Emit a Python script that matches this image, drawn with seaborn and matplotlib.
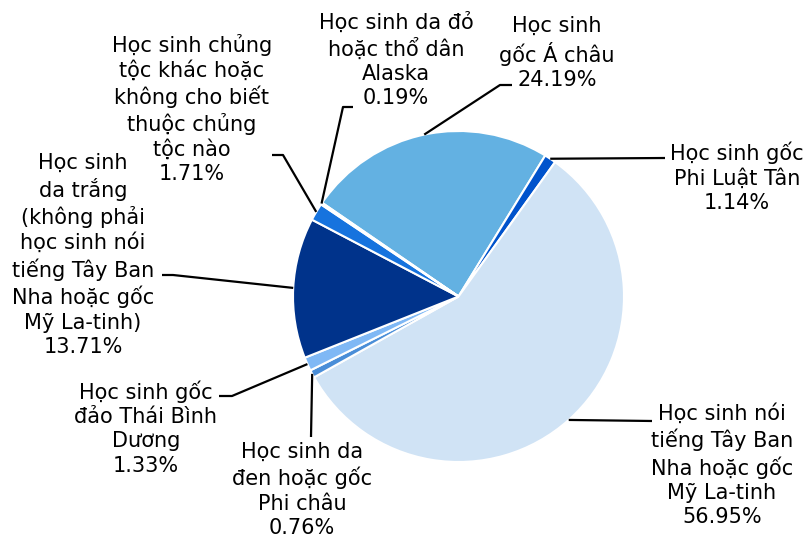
import numpy as np
import matplotlib
matplotlib.use('Agg')
import matplotlib.pyplot as plt
import seaborn as sns

# du lieu: ty le hoc sinh theo chung toc (theo chieu kim dong ho)
groups = ['Học sinh\ngốc Á châu',
          'Học sinh gốc\nPhi Luật Tân',
          'Học sinh nói\ntiếng Tây Ban\nNha hoặc gốc\nMỹ La-tinh',
          'Học sinh da\nđen hoặc gốc\nPhi châu',
          'Học sinh gốc\nđảo Thái Bình\nDương',
          'Học sinh\nda trắng\n(không phải\nhọc sinh nói\ntiếng Tây Ban\nNha hoặc gốc\nMỹ La-tinh)',
          'Học sinh chủng\ntộc khác hoặc\nkhông cho biết\nthuộc chủng\ntộc nào',
          'Học sinh da đỏ\nhoặc thổ dân\nAlaska']
percents = [24.19, 1.14, 56.95, 0.76, 1.33, 13.71, 1.71, 0.19]
colors = ['#63B1E2', '#0053CC', '#D0E3F5', '#4A8ED8',
          '#7FB8F5', '#00338B', '#1673DE', '#2E75B6']

# vi tri nhan (pixel, goc tren trai) va diem gap cua duong dan
label_pos = [(557, 53), (737, 177), (722, 465), (302, 490),
             (146, 428), (83, 255), (192, 109), (396, 60)]
leader_pts = [[(512, 85), (500, 85)],
              [(665, 158)],
              [(652, 421)],
              [(311, 437)],
              [(219, 396), (232, 396)],
              [(162, 275), (173, 275)],
              [(272, 155), (283, 155)],
              [(353, 107), (343, 107)]]

W, H = 809, 537
cx, cy, r = 458.5, 296.5, 165.5

sns.set_style('white')
plt.rcParams['font.family'] = ['DejaVu Sans']

fig = plt.figure(figsize=(W / 100, H / 100), dpi=100)
ax = fig.add_axes([0, 0, 1, 1])

wedges, _ = ax.pie(percents, colors=colors, startangle=145.5, counterclock=False,
                   center=(cx, H - cy), radius=r,
                   wedgeprops=dict(edgecolor='white', linewidth=1.5))
ax.set_xlim(0, W)
ax.set_ylim(0, H)
ax.set_aspect('equal')
ax.axis('off')

for w, name, pct, (tx, ty), pts in zip(wedges, groups, percents, label_pos, leader_pts):
    mid = np.deg2rad((w.theta1 + w.theta2) / 2)
    ex = cx + r * np.cos(mid)
    ey = (H - cy) + r * np.sin(mid)
    xs = [p[0] for p in pts] + [ex]
    ys = [H - p[1] for p in pts] + [ey]
    ax.plot(xs, ys, color='black', lw=1.6, solid_capstyle='butt')
    ax.text(tx, H - ty, name + '\n' + '%.2f%%' % pct, ha='center', va='center',
            multialignment='center', fontsize=15, color='black', linespacing=1.27)

fig.savefig('out.png', dpi=100, facecolor='white')
